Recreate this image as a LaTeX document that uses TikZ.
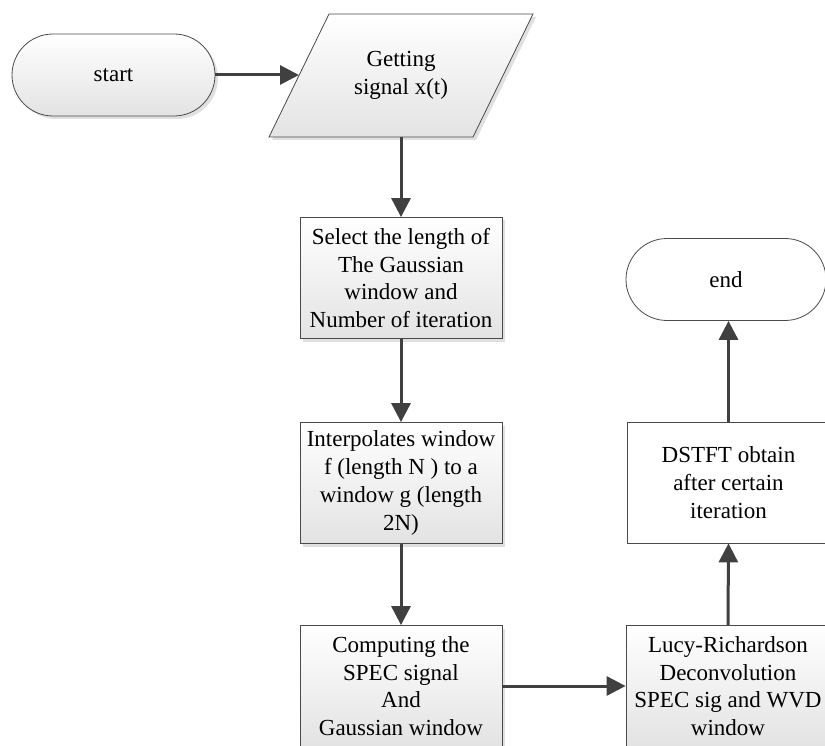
\documentclass[tikz,border=0pt]{standalone}
\usepackage{fontspec}
\setmainfont{Liberation Serif}
\usetikzlibrary{arrows.meta,shadows}
\definecolor{arrowc}{HTML}{404040}
\definecolor{edgec}{HTML}{4A4A4A}
\begin{document}
\begin{tikzpicture}[x=1pt,y=-1pt,
  txt/.style={font=\fontsize{23}{27.7}\selectfont, align=center, text=black},
  shadebox/.style={draw=edgec, line width=0.8pt, top color=white, bottom color=black!11,
    drop shadow={shadow xshift=3pt, shadow yshift=-3pt, opacity=0.12, fill=black}},
  procbox/.style={shadebox, txt, rectangle, minimum width=202pt, minimum height=121pt, inner sep=2pt},
  plainbox/.style={draw=edgec, line width=0.8pt, fill=white, txt, rectangle, minimum width=203pt, minimum height=121pt, inner sep=2pt},
  termbox/.style={txt, rectangle, rounded corners=41pt, minimum width=203pt, minimum height=82pt, inner sep=2pt},
  arr/.style={draw=arrowc, line width=3pt, -{Triangle[length=19pt,width=19pt]}, arrowc}
]
\useasboundingbox (0,0) rectangle (825,746);
\clip (0,0) rectangle (825,746);

% start terminal
\node[termbox, shadebox] (start) at (113.5,75) {start};

% input parallelogram
\path[shadebox] (269,137) -- (329,14) -- (533,14) -- (473,137) -- cycle;
\node[txt] (para) at (401,75.5) {Getting\\signal x(t)};
\coordinate (paraL) at (299,75);
\coordinate (paraB) at (401,137);

% process boxes
\node[procbox] (b1) at (401,278) {Select the length of\\The Gaussian\\window and\\Number of iteration};
\node[procbox] (b2) at (401,483) {Interpolates window\\f (length N ) to a\\window g (length\\2N)};
\node[procbox] (b3) at (401,686) {Computing the\\SPEC signal\\And\\Gaussian window};
\node[procbox, minimum width=204pt] (b4) at (728,686) {Lucy-Richardson\\Deconvolution\\SPEC sig and WVD\\window};
\node[plainbox] (b5) at (728.5,482.5) {DSTFT obtain\\after certain\\iteration};

% end terminal
\node[termbox, draw=edgec, line width=0.8pt, fill=white, minimum width=200pt] (end) at (726,279.5) {end};

% connectors
\draw[arr] (start.east) -- (paraL);
\draw[arr] (paraB) -- (b1.north);
\draw[arr] (b1.south) -- (b2.north);
\draw[arr] (b2.south) -- (b3.north);
\draw[arr] (b3.east) -- (b4.west);
\draw[arr] (b4.north) -- (b5.south);
\draw[arr] (b5.north) -- (b5.north |- end.south);
\end{tikzpicture}
\end{document}
